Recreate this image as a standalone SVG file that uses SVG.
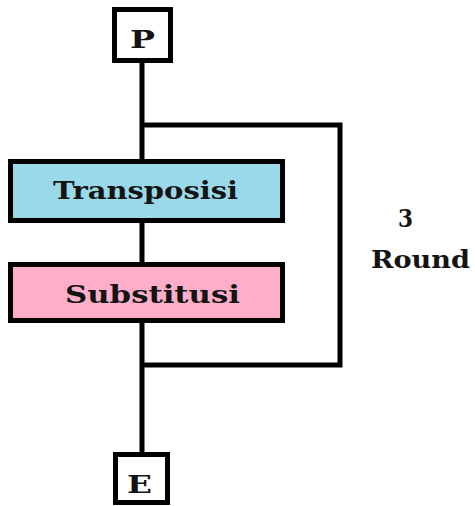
<svg xmlns="http://www.w3.org/2000/svg" width="475" height="506" viewBox="0 0 475 506">
  <style>
    .wire { stroke: #000; stroke-width: 5; fill: none; }
    .box { stroke: #000; stroke-width: 5; }
    .lbl { font-family: "DejaVu Serif", "Liberation Serif", serif; font-weight: bold; fill: #141414; font-size: 24px; }
  </style>
  <rect width="475" height="506" fill="#fff"/>
  <!-- connectors: main line and the round loop -->
  <g id="connectors">
    <line class="wire" x1="142" y1="60" x2="142" y2="455"/>
    <polyline class="wire" points="142,125 340,125 340,365 142,365"/>
  </g>
  <g id="node-p">
    <rect class="box" x="114.5" y="9.5" width="56" height="51" fill="#fff"/>
    <text class="lbl" x="130" y="48" textLength="25" lengthAdjust="spacingAndGlyphs">P</text>
  </g>
  <g id="node-transposisi">
    <rect class="box" x="10.5" y="161.5" width="272" height="59" fill="#99d9ea"/>
    <text class="lbl" x="53" y="199" textLength="185" lengthAdjust="spacingAndGlyphs">Transposisi</text>
  </g>
  <g id="node-substitusi">
    <rect class="box" x="10.5" y="264.5" width="272" height="56" fill="#ffaec9"/>
    <text class="lbl" x="65" y="303" textLength="175" lengthAdjust="spacingAndGlyphs">Substitusi</text>
  </g>
  <g id="node-e">
    <rect class="box" x="115.5" y="454.5" width="52" height="48" fill="#fff"/>
    <text class="lbl" x="127" y="493" textLength="25" lengthAdjust="spacingAndGlyphs">E</text>
  </g>
  <g id="label-round">
    <text class="lbl" x="398" y="227" textLength="15" lengthAdjust="spacingAndGlyphs">3</text>
    <text class="lbl" x="371" y="268" textLength="99" lengthAdjust="spacingAndGlyphs">Round</text>
  </g>
</svg>
